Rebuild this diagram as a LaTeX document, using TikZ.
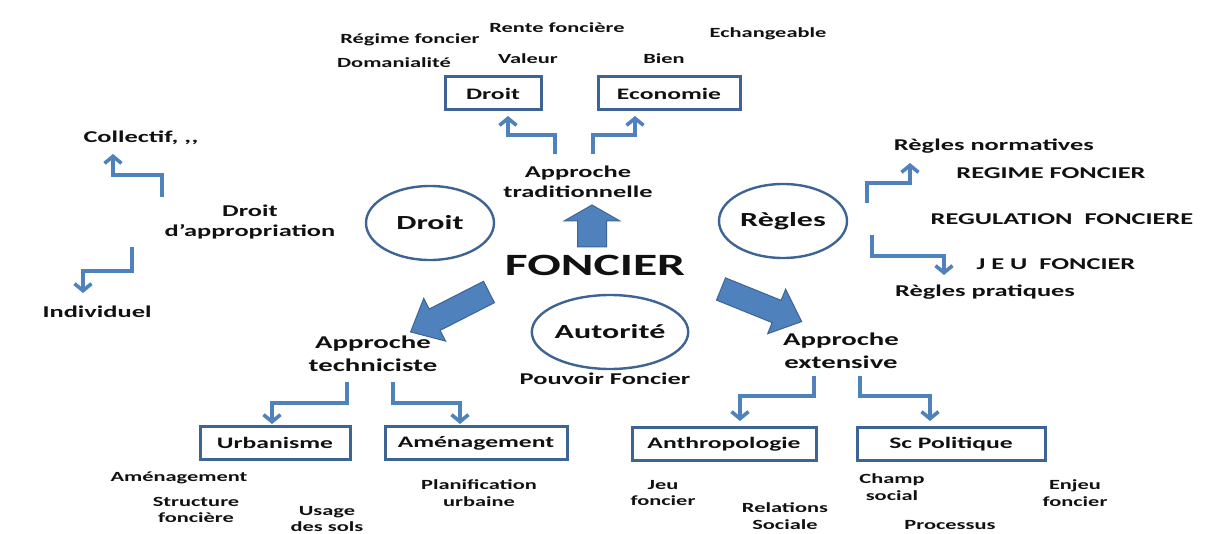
\documentclass[tikz,border=0pt]{standalone}
\usepackage{fontspec}
\setmainfont{Carlito}[FakeStretch=1.6]
\usetikzlibrary{arrows.meta,shapes.geometric}
\definecolor{arrowblue}{HTML}{4F81BD}
\definecolor{edgeblue}{HTML}{3E6496}
\definecolor{inkblack}{HTML}{111111}

% block arrow: #1 tail, #2 angle, #3 length, #4 shaft half width, #5 head half width, #6 head length
\newcommand\blockarrow[6]{%
  \filldraw[fatarrow, shift={#1}, rotate=#2]
    (0,-#4) -- ({#3-#6},-#4) -- ({#3-#6},-#5) -- (#3,0)
    -- ({#3-#6},#5) -- ({#3-#6},#4) -- (0,#4) -- cycle;}

\begin{document}
\begin{tikzpicture}[x=1pt,y=-1pt,
  txt/.style={text=inkblack, align=center, inner sep=0pt,
    font=\bfseries\fontsize{16.5}{20}\selectfont},
  small/.style={text=inkblack, align=center, inner sep=0pt,
    font=\bfseries\fontsize{14}{16.5}\selectfont},
  approach/.style={text=inkblack, align=center, inner sep=0pt,
    font=\bfseries\fontsize{18}{23}\selectfont},
  boxed/.style={draw=edgeblue, line width=3pt, text=inkblack,
    minimum height=33pt, inner sep=0pt,
    font=\bfseries\fontsize{16}{19}\selectfont},
  oval/.style={ellipse, draw=edgeblue, line width=2.4pt, text=inkblack,
    minimum width=128pt, minimum height=74pt, inner sep=0pt,
    font=\bfseries\fontsize{20}{24}\selectfont},
  elbow/.style={draw=arrowblue, line width=3.6pt,
    -{Straight Barb[length=7pt,width=17pt]}},
  fatarrow/.style={fill=arrowblue, draw=edgeblue, line width=1pt, line join=miter}]

\useasboundingbox (0,0) rectangle (1212,534);

% ---- centre
\node[text=inkblack, inner sep=0pt, font=\bfseries\fontsize{31}{36}\selectfont]
  (foncier) at (595,265) {FONCIER};
\node[oval] (cDroit) at (430,223) {Droit};
\node[oval] (cRegles) at (783,221) {Règles};
\node[oval] (cAutorite) at (610,332) {Autorité};
\node[txt] (pouvoir) at (605,379) {Pouvoir Foncier};

\blockarrow{(592,247)}{90}{42}{14.5}{28}{16}
\blockarrow{(489,292)}{207}{88}{12}{24}{27}
\blockarrow{(721,289)}{-22}{87}{12}{24}{27}

% ---- traditional approach (top)
\node[txt, font=\bfseries\fontsize{16.5}{19.5}\selectfont]
  (trad) at (578,182) {Approche\\traditionnelle};
\node[boxed, minimum width=96pt] (bDroit) at (493,93.5) {Droit};
\node[boxed, minimum width=142pt] (bEco) at (669,93.5) {Economie};

\coordinate (t1s) at (555,154); \coordinate (t1e) at (508,116);
\coordinate (t2s) at (593,154); \coordinate (t2e) at (635,116);
\draw[elbow] (t1s) -- ++(0,-19) -| (t1e);
\draw[elbow] (t2s) -- ++(0,-19) -| (t2e);

\node[small] (rente) at (557,28) {Rente foncière};
\node[small] (regime) at (410,40) {Régime foncier};
\node[small] (domaine) at (394,63) {Domanialité};
\node[small] (valeur) at (528,59) {Valeur};
\node[small] (echange) at (768,34) {Echangeable};
\node[small] (bien) at (664,59) {Bien};

% ---- appropriation (left)
\node[txt] (approp) at (250,222) {Droit\\d’appropriation};
\node[txt] (collectif) at (141,138) {Collectif, ,\kern0.6pt,};
\node[txt] (individuel) at (97,312) {Individuel};
\coordinate (a1s) at (162,197); \coordinate (a1e) at (113,154);
\coordinate (a2s) at (132,247); \coordinate (a2e) at (83,293);
\draw[elbow] (a1s) -- ++(0,-22) -| (a1e);
\draw[elbow] (a2s) -- ++(0,24) -| (a2e);

% ---- rules (right)
\node[txt] (normat) at (994,146) {Règles normatives};
\node[txt] (regimeF) at (1051,173) {REGIME FONCIER};
\node[txt] (regul) at (1062,219) {REGULATION\ \ FONCIERE};
\node[txt] (jeuF) at (1056,264) {J E U\ \ FONCIER};
\node[txt] (pratiq) at (985,292) {Règles pratiques};
\coordinate (r1s) at (867,203); \coordinate (r1e) at (910,163);
\coordinate (r2s) at (872,235); \coordinate (r2e) at (944,275);
\draw[elbow] (r1s) -- ++(0,-20) -| (r1e);
\draw[elbow] (r2s) -- ++(0,21) -| (r2e);

% ---- technicist approach (bottom left)
\node[approach] (tech) at (373,354) {Approche\\techniciste};
\node[boxed, minimum width=150pt] (bUrb) at (275,443) {Urbanisme};
\node[boxed, minimum width=182pt] (bAme) at (476,443) {Aménagement};
\coordinate (u1s) at (347,382); \coordinate (u1e) at (272,424);
\coordinate (u2s) at (393,382); \coordinate (u2e) at (460,424);
\draw[elbow] (u1s) -- ++(0,21) -| (u1e);
\draw[elbow] (u2s) -- ++(0,21) -| (u2e);

\node[small] (amenag) at (179,478) {Aménagement};
\node[small] (struct) at (196,510) {Structure\\foncière};
\node[small] (usage) at (327,519) {Usage\\des sols};
\node[small] (planif) at (479,493) {Planification\\urbaine};

% ---- extensive approach (bottom right)
\node[approach] (ext) at (841,351) {Approche\\extensive};
\node[boxed, minimum width=184pt] (bAnth) at (724,444) {Anthropologie};
\node[boxed, minimum width=188pt] (bPol) at (951,444) {Sc Politique};
\coordinate (e1s) at (814,376); \coordinate (e1e) at (740,421);
\coordinate (e2s) at (860,376); \coordinate (e2e) at (930,421);
\draw[elbow] (e1s) -- ++(0,20) -| (e1e);
\draw[elbow] (e2s) -- ++(0,20) -| (e2e);

\node[small] (jeu) at (663,493) {Jeu\\foncier};
\node[small] (relat) at (785,516) {Relations\\Sociale};
\node[small] (champ) at (892,487) {Champ\\social};
\node[small] (process) at (950,525) {Processus};
\node[small] (enjeu) at (1075,493) {Enjeu\\foncier};

\end{tikzpicture}
\end{document}
